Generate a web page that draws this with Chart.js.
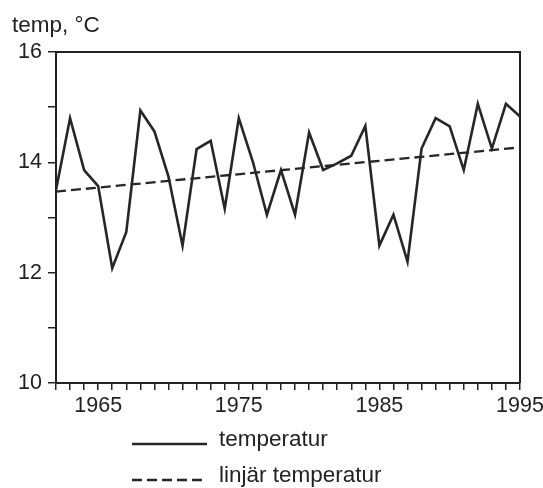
<!DOCTYPE html>
<html>
<head>
<meta charset="utf-8">
<script src="https://cdn.jsdelivr.net/npm/chart.js@4"></script>
<style>
  html, body { margin: 0; padding: 0; background: #ffffff; }
  #wrap { width: 543px; height: 488px; }
</style>
</head>
<body>
<div id="wrap"><canvas id="c" width="543" height="488"></canvas></div>
<script>
const years = [1962, 1963, 1964, 1965, 1966, 1967, 1968, 1969, 1970, 1971, 1972, 1973, 1974, 1975, 1976, 1977, 1978, 1979, 1980, 1981, 1982, 1983, 1984, 1985, 1986, 1987, 1988, 1989, 1990, 1991, 1992, 1993, 1994, 1995];
const temperatur = [13.5, 14.8, 13.86, 13.57, 12.08, 12.74, 14.94, 14.56, 13.74, 12.49, 14.24, 14.39, 13.16, 14.8, 14.01, 13.05, 13.86, 13.05, 14.54, 13.86, 13.98, 14.12, 14.66, 12.49, 13.05, 12.2, 14.25, 14.8, 14.65, 13.86, 15.06, 14.25, 15.06, 14.83];
const trendYears = [1962, 1995];
const linjarTemperatur = [13.47, 14.27];
const xTickLabels = [1965, 1975, 1985, 1995];
const yTickLabels = [10, 12, 14, 16];
const seriesLabels = ['temperatur', 'linjär temperatur'];
const yAxisTitle = 'temp, °C';

const FONT = 'Liberation Sans, Arial, Helvetica, sans-serif';
const INK = '#222222';

const framePlugin = {
  id: 'frame',
  afterDraw(chart) {
    const a = chart.chartArea, ctx = chart.ctx;
    ctx.save();
    ctx.strokeStyle = INK;
    ctx.lineWidth = 2;
    ctx.beginPath();
    ctx.moveTo(a.left, a.top);
    ctx.lineTo(a.right, a.top);
    ctx.lineTo(a.right, a.bottom);
    ctx.stroke();
    ctx.fillStyle = INK;
    ctx.font = '22.5px ' + FONT;
    ctx.textBaseline = 'alphabetic';
    ctx.textAlign = 'left';
    ctx.fillText(yAxisTitle, 12, 32);
    ctx.restore();
  }
};

const legendPlugin = {
  id: 'customLegend',
  afterDraw(chart) {
    const ctx = chart.ctx;
    const rows = [444, 480];
    ctx.save();
    chart.data.datasets.forEach((ds, i) => {
      const y = rows[i];
      ctx.strokeStyle = ds.borderColor;
      ctx.lineWidth = ds.borderWidth;
      ctx.setLineDash(ds.borderDash || []);
      ctx.beginPath();
      ctx.moveTo(132, y);
      ctx.lineTo(207, y);
      ctx.stroke();
      ctx.setLineDash([]);
      ctx.fillStyle = INK;
      ctx.font = '22.5px ' + FONT;
      ctx.textBaseline = 'middle';
      ctx.textAlign = 'left';
      ctx.fillText(ds.label, 219, y - 4);
    });
    ctx.restore();
  }
};

new Chart(document.getElementById('c'), {
  type: 'line',
  data: {
    datasets: [
      {
        label: seriesLabels[0],
        data: years.map((yr, i) => ({ x: yr, y: temperatur[i] })),
        borderColor: '#262626',
        borderWidth: 2.6,
        pointRadius: 0,
        tension: 0,
        fill: false
      },
      {
        label: seriesLabels[1],
        data: trendYears.map((yr, i) => ({ x: yr, y: linjarTemperatur[i] })),
        borderColor: '#262626',
        borderWidth: 2.3,
        borderDash: [10, 5],
        pointRadius: 0,
        tension: 0,
        fill: false
      }
    ]
  },
  options: {
    responsive: false,
    animation: false,
    events: [],
    layout: { padding: { top: 52, right: 23, left: 0, bottom: 0 } },
    plugins: { legend: { display: false }, tooltip: { enabled: false }, title: { display: false } },
    scales: {
      x: {
        type: 'linear',
        min: years[0],
        max: years[years.length - 1],
        afterFit(scale) { scale.height = 105; scale.paddingRight = 0; scale.paddingLeft = 0; },
        border: { display: true, color: INK, width: 2 },
        grid: { drawOnChartArea: false, drawTicks: true, tickLength: 7, color: INK, lineWidth: 1.5 },
        ticks: {
          stepSize: 1,
          autoSkip: false,
          maxRotation: 0,
          padding: 3,
          color: INK,
          font: { family: FONT, size: 21.5 },
          callback: v => xTickLabels.includes(v) ? String(v) : ''
        }
      },
      y: {
        min: 10,
        max: 16,
        afterFit(scale) { scale.width = 56; scale.paddingTop = 0; scale.paddingBottom = 0; },
        border: { display: true, color: INK, width: 2 },
        grid: { drawOnChartArea: false, drawTicks: true, tickLength: 8, color: INK, lineWidth: 1.5 },
        ticks: {
          stepSize: 1,
          padding: 6,
          color: INK,
          font: { family: FONT, size: 21.5 },
          callback: v => yTickLabels.includes(v) ? String(v) : ''
        }
      }
    }
  },
  plugins: [framePlugin, legendPlugin]
});
</script>
</body>
</html>
